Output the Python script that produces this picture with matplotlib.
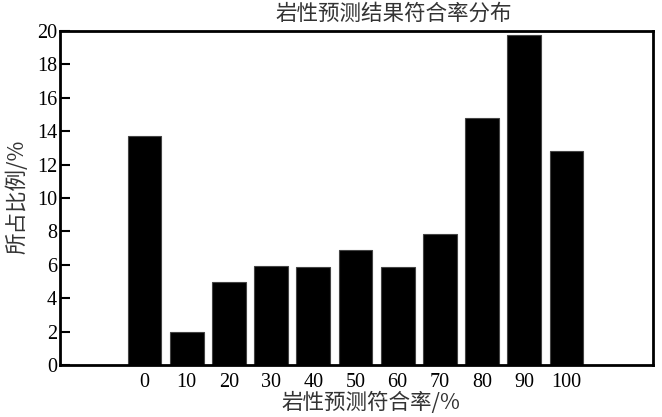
import matplotlib
matplotlib.use('Agg')
import matplotlib.pyplot as plt

rates = ['0', '10', '20', '30', '40', '50', '60', '70', '80', '90', '100']
shares = [13.73, 1.96, 4.95, 5.91, 5.87, 6.89, 5.89, 7.83, 14.79, 19.76, 12.8]

title = '岩性预测结果符合率分布'
xlabel = '岩性预测符合率/%'
ylabel = '所占比例/%'

cjk = ['Noto Sans CJK SC', 'DejaVu Sans']
num_font = 'Liberation Serif'

fig = plt.figure(figsize=(6.62, 4.17), dpi=100)
ax = fig.add_axes([60 / 662, 1 - 365 / 417, (653 - 60) / 662, (365 - 31) / 417])

x = list(range(len(rates)))
ax.bar(x, shares, width=0.8, color='black', edgecolor='#444444', linewidth=0.8)

ax.set_xlim(-2, 12.05)
ax.set_ylim(0, 20)
ax.set_yticks(range(0, 21, 2))
ax.set_xticks(x)
ax.set_xticklabels(rates)

for lab in ax.get_xticklabels() + ax.get_yticklabels():
    lab.set_fontfamily(num_font)
    lab.set_fontsize(14.5)

ax.tick_params(axis='y', direction='in', length=7, width=1.5, pad=2)
ax.tick_params(axis='x', length=0, pad=6)
for s in ax.spines.values():
    s.set_linewidth(2)

fig.text(394 / 662, 1 - 14 / 417, title, ha='center', va='center',
         family=cjk, fontsize=15.5, color='#333333', fontweight='light')
fig.text(371 / 662, 1 - 403 / 417, xlabel, ha='center', va='center',
         family=cjk, fontsize=15.5, color='#333333', fontweight='light')
fig.text(17 / 662, 1 - 197 / 417, ylabel, ha='center', va='center', rotation=90,
         family=cjk, fontsize=15.5, color='#333333', fontweight='light')

fig.savefig('out.png', dpi=100)
